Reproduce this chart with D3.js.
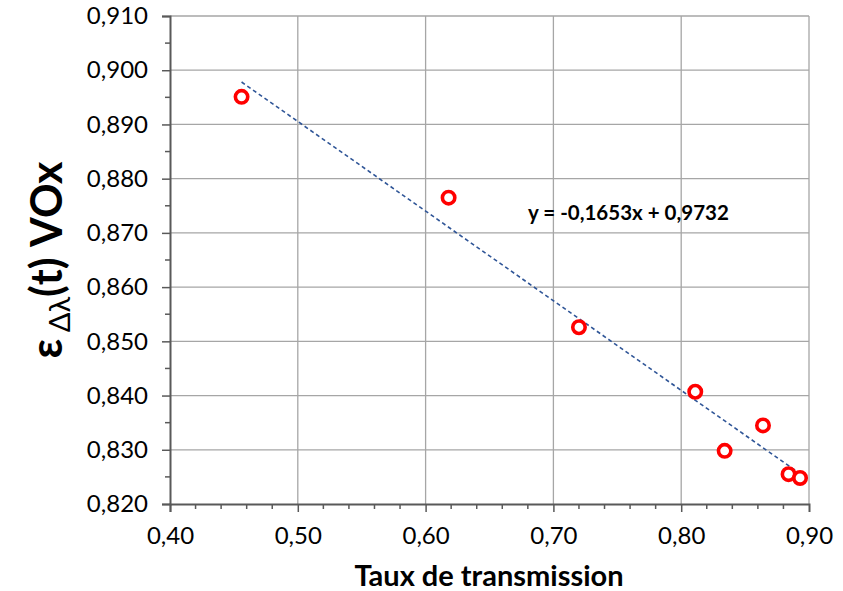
<!DOCTYPE html>
<html>
<head>
<meta charset="utf-8">
<script src="https://cdn.jsdelivr.net/npm/d3@7"></script>
<style>
  body { margin: 0; background: #fff; }
  text { font-family: Lato, "Open Sans", sans-serif; fill: #000; }
</style>
</head>
<body>
<div id="chart"></div>
<script>
// data
const transmission = [0.456, 0.618, 0.720, 0.811, 0.834, 0.864, 0.884, 0.893];
const emissivity = [0.8951, 0.8765, 0.8526, 0.8407, 0.8298, 0.8345, 0.8255, 0.8248];
const xTicks = [0.40, 0.50, 0.60, 0.70, 0.80, 0.90];
const yTicks = [0.820, 0.830, 0.840, 0.850, 0.860, 0.870, 0.880, 0.890, 0.900, 0.910];
const slope = -0.1653, intercept = 0.9732;
const equationLabel = "y = -0,1653x + 0,9732";

const svgWidth = 843, svgHeight = 591;
const margin = { top: 16, right: 34, bottom: 87, left: 170 };
const width = svgWidth - margin.left - margin.right,
      height = svgHeight - margin.top - margin.bottom;

const comma = f => (v => d3.format(f)(v).replace(".", ","));

const svg = d3.select("#chart").append("svg")
  .attr("width", svgWidth)
  .attr("height", svgHeight);

const g = svg.append("g")
  .attr("transform", "translate(" + margin.left + "," + margin.top + ")");

const x = d3.scaleLinear().domain([0.40, 0.90]).range([0, width]);
const y = d3.scaleLinear().domain([0.820, 0.910]).range([height, 0]);

// gridlines
g.append("g")
  .selectAll("line.vgrid")
  .data(xTicks.slice(1))
  .join("line")
  .attr("x1", d => x(d)).attr("x2", d => x(d))
  .attr("y1", 0).attr("y2", height)
  .style("stroke", "#a6a6a6").style("stroke-width", 1.3);

g.append("g")
  .selectAll("line.hgrid")
  .data(yTicks.slice(1))
  .join("line")
  .attr("x1", 0).attr("x2", width)
  .attr("y1", d => y(d)).attr("y2", d => y(d))
  .style("stroke", "#a6a6a6").style("stroke-width", 1.3);

// minor ticks
const xMinor = d3.range(0.42, 0.90, 0.02).filter(v => Math.abs(v * 10 - Math.round(v * 10)) > 1e-6);
const yMinor = d3.range(0.825, 0.910, 0.01);

const xAxis = g.append("g")
  .attr("transform", "translate(0," + height + ")")
  .call(d3.axisBottom(x).tickValues(xTicks).tickFormat(comma(".2f")).tickSize(8).tickPadding(15));
xAxis.selectAll(".tick").filter((d, i) => i === xTicks.length - 1).select("line").remove();
xAxis.append("g").selectAll("line")
  .data(xMinor)
  .join("line")
  .attr("x1", d => x(d)).attr("x2", d => x(d))
  .attr("y1", 0).attr("y2", 5);

const yAxis = g.append("g")
  .call(d3.axisLeft(y).tickValues(yTicks).tickFormat(comma(".3f")).tickSize(8).tickPadding(14));
yAxis.append("g").selectAll("line")
  .data(yMinor)
  .join("line")
  .attr("x1", 0).attr("x2", -5)
  .attr("y1", d => y(d)).attr("y2", d => y(d));

[xAxis, yAxis].forEach(a => {
  a.select(".domain").style("stroke", "#595959").style("stroke-width", 2);
  a.selectAll("line").style("stroke", "#595959").style("stroke-width", 1.5);
  a.selectAll("text").style("font-size", "24px").style("fill", "#000");
});

// trendline
const xFit = d3.extent(transmission);
g.append("line")
  .attr("x1", x(xFit[0])).attr("y1", y(slope * xFit[0] + intercept))
  .attr("x2", x(xFit[1])).attr("y2", y(slope * xFit[1] + intercept))
  .style("stroke", "#2f5597")
  .style("stroke-width", 1.6)
  .style("stroke-dasharray", "4,3");

// points
g.selectAll("circle.pt")
  .data(transmission.map((t, i) => [t, emissivity[i]]))
  .join("circle")
  .attr("cx", d => x(d[0]))
  .attr("cy", d => y(d[1]))
  .attr("r", 6.2)
  .style("fill", "#fff")
  .style("stroke", "#ff0000")
  .style("stroke-width", 3.6);

// equation
g.append("text")
  .attr("x", x(0.7587))
  .attr("y", y(0.8724))
  .attr("text-anchor", "middle")
  .style("font-size", "20.5px")
  .style("font-weight", "bold")
  .text(equationLabel);

// axis titles
svg.append("text")
  .attr("x", 489)
  .attr("y", 586)
  .attr("text-anchor", "middle")
  .style("font-size", "29px")
  .style("font-weight", "bold")
  .text("Taux de transmission");

const yTitle = svg.append("text")
  .attr("transform", "translate(62,260) rotate(-90)")
  .attr("text-anchor", "middle")
  .style("font-size", "43px")
  .style("font-weight", "bold");
yTitle.append("tspan").text("ε");
yTitle.append("tspan").attr("dy", 8).style("font-size", "29px").style("font-weight", "normal").text(" Δλ");
yTitle.append("tspan").attr("dy", -8).text("(t) VOx");
</script>
</body>
</html>
